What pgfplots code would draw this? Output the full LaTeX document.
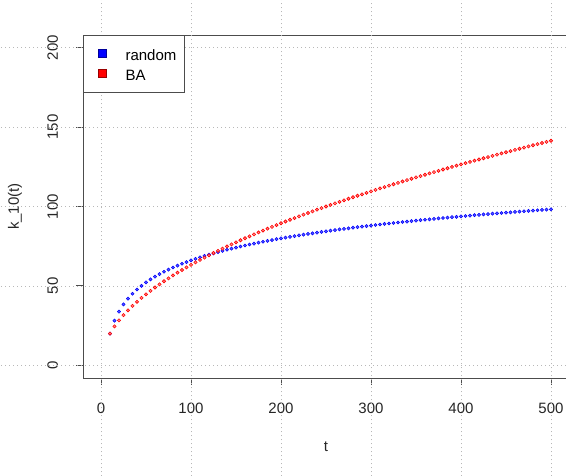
\documentclass[border=0pt]{standalone}
\usepackage{fontspec}
\setmainfont{Liberation Sans}
\usepackage{pgfplots}
\pgfplotsset{compat=1.18}

% k_10(t) for a random-attachment and a BA network, one point every 5 steps
\pgfplotstableread{
t rnd ba
10 20.00 20.00
15 28.11 24.49
20 33.86 28.28
25 38.33 31.62
30 41.97 34.64
35 45.06 37.42
40 47.73 40.00
45 50.08 42.43
50 52.19 44.72
55 54.09 46.90
60 55.84 48.99
65 57.44 50.99
70 58.92 52.92
75 60.30 54.77
80 61.59 56.57
85 62.80 58.31
90 63.94 60.00
95 65.03 61.64
100 66.05 63.25
105 67.03 64.81
110 67.96 66.33
115 68.85 67.82
120 69.70 69.28
125 70.51 70.71
130 71.30 72.11
135 72.05 73.48
140 72.78 74.83
145 73.48 76.16
150 74.16 77.46
155 74.82 78.74
160 75.45 80.00
165 76.07 81.24
170 76.66 82.46
175 77.24 83.67
180 77.81 84.85
185 78.36 86.02
190 78.89 87.18
195 79.41 88.32
200 79.91 89.44
205 80.41 90.55
210 80.89 91.65
215 81.36 92.74
220 81.82 93.81
225 82.27 94.87
230 82.71 95.92
235 83.14 96.95
240 83.56 97.98
245 83.97 98.99
250 84.38 100.00
255 84.77 100.99
260 85.16 101.98
265 85.54 102.96
270 85.92 103.92
275 86.28 104.88
280 86.64 105.83
285 87.00 106.77
290 87.35 107.70
295 87.69 108.63
300 88.02 109.54
305 88.35 110.45
310 88.68 111.36
315 89.00 112.25
320 89.31 113.14
325 89.62 114.02
330 89.93 114.89
335 90.23 115.76
340 90.53 116.62
345 90.82 117.47
350 91.11 118.32
355 91.39 119.16
360 91.67 120.00
365 91.95 120.83
370 92.22 121.66
375 92.49 122.47
380 92.75 123.29
385 93.01 124.10
390 93.27 124.90
395 93.53 125.70
400 93.78 126.49
405 94.03 127.28
410 94.27 128.06
415 94.51 128.84
420 94.75 129.61
425 94.99 130.38
430 95.22 131.15
435 95.46 131.91
440 95.68 132.66
445 95.91 133.42
450 96.13 134.16
455 96.35 134.91
460 96.57 135.65
465 96.79 136.38
470 97.00 137.11
475 97.21 137.84
480 97.42 138.56
485 97.63 139.28
490 97.84 140.00
495 98.04 140.71
500 98.24 141.42
}\kdata

\tikzset{gridl/.style={black!28, line width=0.6pt, dash pattern=on 0.75pt off 2.25pt}}

\begin{document}
\begin{tikzpicture}
\begin{axis}[
    name=ax, at={(0,0)}, anchor=south west,
    width=364.5pt, height=257.25pt, scale only axis,
    xmin=-20, xmax=520, ymin=-8, ymax=208,
    xtick={0,100,200,300,400,500},
    ytick={0,50,100,150,200},
    tick pos=left, tick align=outside,
    major tick length=5.25pt,
    tick style={black!70, line width=0.75pt},
    axis line style={black!70, line width=0.75pt},
    clip=false,
    font=\fontsize{11.25}{13}\selectfont,
    /pgf/number format/assume math mode=true,
    ticklabel style={font=\fontsize{11.25}{13}\selectfont, black!85},
    xticklabel style={anchor=center, yshift=-17.25pt},
    yticklabel style={xshift=-17.5pt, rotate=90, anchor=center},
    xlabel={t},
    ylabel={k\_10(t)},
    xlabel style={at={(axis description cs:0.5,0)}, anchor=center, yshift=-51.75pt, black!85},
    ylabel style={at={(axis description cs:0,0.5)}, anchor=center, yshift=51pt, black!85},
    legend style={at={(0,1)}, anchor=north west, draw=black!70, line width=0.75pt,
      fill=white, inner xsep=6pt, inner ysep=8.3pt, row sep=4.1pt,
      font=\fontsize{11.25}{13}\selectfont,
      nodes={inner sep=0pt, text height=10.5pt, text depth=0.5pt},
      /tikz/every odd column/.append style={column sep=14.25pt}},
    legend cell align=left,
]
% dotted grid, running across the whole figure as in the original
\pgfplotsinvokeforeach{0,100,200,300,400,500}{
  \draw[gridl] (axis cs:#1,-75) -- (axis cs:#1,235);
}
\pgfplotsinvokeforeach{0,50,100,150,200}{
  \draw[gridl] (axis cs:-120,#1) -- (axis cs:540,#1);
}
\addplot[only marks, mark=*, mark size=1.2pt,
  mark options={draw=blue, fill=blue!65, line width=0.4pt},
  legend image code/.code={\path (-4.5pt,0pt); \draw[fill=blue, draw=blue!60!black, line width=0.4pt] (0pt,-2.6pt) rectangle (6.2pt,3.6pt);}]
  table[x=t, y=rnd] {\kdata};
\addlegendentry{random}
\addplot[only marks, mark=*, mark size=1.2pt,
  mark options={draw=red, fill=red!45, line width=0.45pt},
  legend image code/.code={\path (-4.5pt,0pt); \draw[fill=red, draw=red!60!black, line width=0.4pt] (0pt,-2.6pt) rectangle (6.2pt,3.6pt);}]
  table[x=t, y=ba] {\kdata};
\addlegendentry{BA}
\end{axis}
\pgfresetboundingbox
\path[use as bounding box] (-62.25pt,-72.75pt) rectangle (362.25pt,283.5pt);
\end{tikzpicture}
\end{document}
